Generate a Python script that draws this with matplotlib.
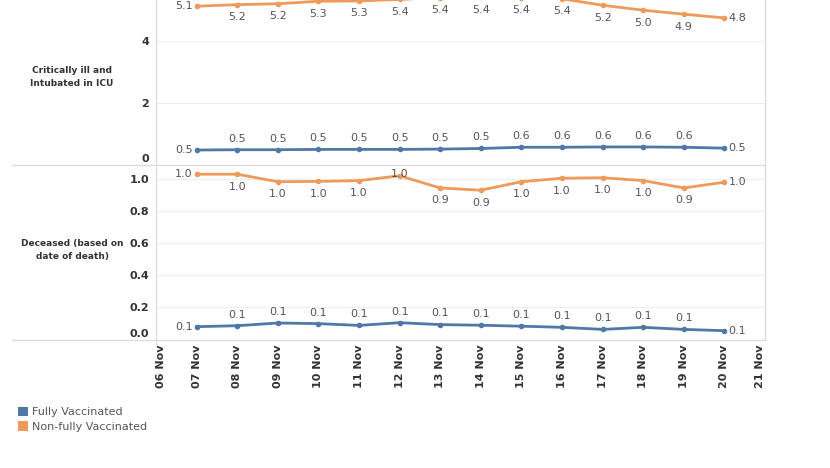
import matplotlib.pyplot as plt
from matplotlib.patches import Patch
from matplotlib.lines import Line2D

# =========================
# DATA
# =========================
days = [7, 8, 9, 10, 11, 12, 13, 14, 15, 16, 17, 18, 19, 20]
tick_days = list(range(6, 22))
tick_labels = [f"{d:02d} Nov" for d in tick_days]

icu_full = [0.47, 0.48, 0.48, 0.49, 0.49, 0.49, 0.50, 0.52, 0.56, 0.56, 0.57, 0.57, 0.56, 0.53]
icu_nonfull = [5.14, 5.19, 5.22, 5.30, 5.31, 5.36, 5.41, 5.43, 5.42, 5.38, 5.17, 5.01, 4.88, 4.76]

dec_full = [0.077, 0.083, 0.10, 0.096, 0.085, 0.102, 0.09, 0.086, 0.08, 0.073, 0.06, 0.073, 0.06, 0.052]
dec_nonfull = [1.03, 1.03, 0.983, 0.985, 0.99, 1.02, 0.944, 0.93, 0.983, 1.005, 1.008, 0.99, 0.944, 0.98]

# label placement per point: 'above', 'below', 'center'
icu_nonfull_pos = ["below"] * 14
dec_nonfull_pos = ["below"] * 14
dec_nonfull_pos[5] = "center"

BLUE = "#4e79a7"
ORANGE = "#ee9a5b"
GRID = "#efefef"
BORDER = "#dcdcdc"
TXT = "#555555"
TICK = "#333333"

W, H = 830, 468
fig = plt.figure(figsize=(W / 100, H / 100), dpi=100)


def px(x0, y_bottom, x1, y_top):
    return [x0 / W, 1 - y_bottom / H, (x1 - x0) / W, (y_bottom - y_top) / H]


# top axes extends above the picture (cropped like the reference)
ax1 = fig.add_axes(px(156, 164.5, 765, -20))
ax1.set_ylim(0, (164.5 + 20) / 30.8)
ax2 = fig.add_axes(px(156, 339, 765, 164.5))
ax2.set_ylim(0, (339 - 164.5) / 160)


def annotate(ax, xs, ys, positions, color):
    n = len(xs)
    for i, (x, y) in enumerate(zip(xs, ys)):
        s = f"{y:.1f}"
        if i == 0:
            ax.annotate(s, (x, y), xytext=(-3, 0), textcoords="offset points",
                        ha="right", va="center", fontsize=8, color=TXT)
        elif i == n - 1:
            ax.annotate(s, (x, y), xytext=(3, 0), textcoords="offset points",
                        ha="left", va="center", fontsize=8, color=TXT)
        else:
            p = positions[i]
            dy = {"above": 8, "below": -9, "center": 1}[p]
            ax.annotate(s, (x, y), xytext=(0, dy), textcoords="offset points",
                        ha="center", va="center", fontsize=8, color=TXT)


for ax in (ax1, ax2):
    ax.set_xlim(6, 21)
    for sp in ax.spines.values():
        sp.set_visible(False)
    ax.tick_params(axis="both", length=0, labelsize=8, labelcolor=TICK)
    ax.tick_params(axis="y", pad=5)
    ax.grid(axis="y", color=GRID, linewidth=0.8)
    ax.set_axisbelow(True)
    ax.set_xticks(tick_days)
    ax.set_xticklabels([])

ax1.set_yticks([0, 2, 4])
ax1.set_yticklabels(["0", "2", "4"], fontweight="bold")
ax2.set_yticks([0.0, 0.2, 0.4, 0.6, 0.8, 1.0])
ax2.set_yticklabels(["0.0", "0.2", "0.4", "0.6", "0.8", "1.0"], fontweight="bold")
ax1.get_yticklabels()[0].set_va("bottom")
ax2.get_yticklabels()[0].set_va("bottom")

line_kw = dict(linewidth=2, marker="o", markersize=3)
ax1.plot(days, icu_full, color=BLUE, **line_kw)
ax1.plot(days, icu_nonfull, color=ORANGE, **line_kw)
ax2.plot(days, dec_full, color=BLUE, **line_kw)
ax2.plot(days, dec_nonfull, color=ORANGE, **line_kw)

annotate(ax1, days, icu_full, ["above"] * 14, BLUE)
annotate(ax1, days, icu_nonfull, icu_nonfull_pos, ORANGE)
annotate(ax2, days, dec_full, ["above"] * 14, BLUE)
annotate(ax2, days, dec_nonfull, dec_nonfull_pos, ORANGE)

# x tick labels under the bottom panel
for i, (d, lab) in enumerate(zip(tick_days, tick_labels)):
    ha = "center"
    if i == 0:
        ha = "left"
    elif i == len(tick_days) - 1:
        ha = "right"
    ax2.text(d, -0.03, lab, rotation=90, ha=ha, va="top", fontsize=8,
             fontweight="bold", color=TICK, transform=ax2.get_xaxis_transform())

# row headers
fig.text(72 / W, 1 - 77 / H, "Critically ill and\nIntubated in ICU", ha="center",
         va="center", fontsize=6.5, fontweight="bold", color=TICK, linespacing=1.6)
fig.text(72 / W, 1 - 250 / H, "Deceased (based on\ndate of death)", ha="center",
         va="center", fontsize=6.5, fontweight="bold", color=TICK, linespacing=1.6)

# borders
fig.add_artist(Line2D([12 / W, 765 / W], [1 - 164.5 / H] * 2, color=BORDER, lw=1))
fig.add_artist(Line2D([12 / W, 765 / W], [1 - 339.5 / H] * 2, color=BORDER, lw=1))
fig.add_artist(Line2D([156 / W] * 2, [1, 1 - 345 / H], color=BORDER, lw=1))
fig.add_artist(Line2D([765 / W] * 2, [1, 1 - 339.5 / H], color=BORDER, lw=1))

# legend
handles = [Patch(facecolor=BLUE, edgecolor="none", label="Fully Vaccinated"),
           Patch(facecolor=ORANGE, edgecolor="none", label="Non-fully Vaccinated")]
fig.legend(handles=handles, loc="upper left", bbox_to_anchor=(8 / W, 1 - 397 / H),
           frameon=False, fontsize=8, handlelength=0.9, handleheight=0.9,
           handletextpad=0.4, labelspacing=0.35, labelcolor=TXT)

fig.savefig("out.png", dpi=100)
